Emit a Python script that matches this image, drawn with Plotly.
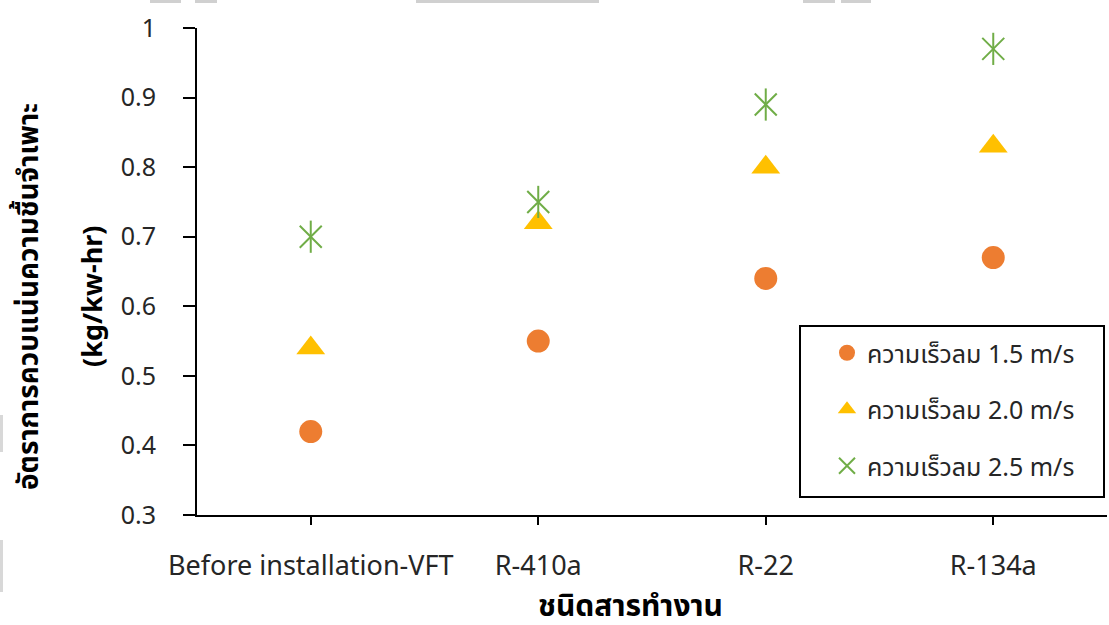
import plotly.graph_objects as go

categories = ["Before installation-VFT", "R-410a", "R-22", "R-134a"]
speed_15 = [0.42, 0.55, 0.64, 0.67]
speed_20 = [0.54, 0.72, 0.80, 0.83]
speed_25 = [0.70, 0.75, 0.89, 0.97]
series_names = ["ความเร็วลม 1.5 m/s", "ความเร็วลม 2.0 m/s", "ความเร็วลม 2.5 m/s"]
y_ticks = [0.3, 0.4, 0.5, 0.6, 0.7, 0.8, 0.9, 1.0]
y_tick_text = ["0.3", "0.4", "0.5", "0.6", "0.7", "0.8", "0.9", "1"]
x_title = "ชนิดสารทำงาน"
y_title_1 = "อัตราการควบแน่นความชื้นจำเพาะ"
y_title_2 = "(kg/kw-hr)"

FONT = "Noto Sans, Noto Sans Thai, DejaVu Sans, sans-serif"
W, H = 1109, 625
L, R, T, B = 197, 2, 28, 110
GREEN = "#70AD47"

fig = go.Figure()
fig.add_trace(go.Scatter(x=categories, y=speed_15, mode="markers", name=series_names[0],
                         legendgroup="g15",
                         marker=dict(symbol="circle", size=23, color="#ED7D31")))
fig.add_trace(go.Scatter(x=categories, y=speed_20, mode="markers", name=series_names[1],
                         legendgroup="g20",
                         marker=dict(symbol="triangle-up", size=25, color="#FFC000")))
fig.add_trace(go.Scatter(x=categories, y=speed_25, mode="markers", name=series_names[2],
                         legendgroup="g25",
                         marker=dict(symbol="x-thin-open", size=22, color=GREEN,
                                     line=dict(color=GREEN, width=2))))
fig.add_trace(go.Scatter(x=categories, y=speed_25, mode="markers", name=series_names[2],
                         legendgroup="g25", showlegend=False,
                         marker=dict(symbol="line-ns-open", size=23, color=GREEN,
                                     line=dict(color=GREEN, width=2))))

pw = W - L - R
ph = H - T - B

def px_x(p):
    return (p - L) / pw

def px_y(p):
    return (H - B - p) / ph

shapes = []
for x0, x1 in [(150, 181), (195, 217), (416, 599), (803, 835), (841, 871)]:
    shapes.append(dict(type="rect", xref="paper", yref="paper",
                       x0=px_x(x0), x1=px_x(x1), y0=px_y(0), y1=px_y(3),
                       fillcolor="#d0d0d0", line=dict(width=0), layer="below"))
for y0, y1 in [(415, 452), (540, 592)]:
    shapes.append(dict(type="rect", xref="paper", yref="paper",
                       x0=px_x(0), x1=px_x(3), y0=px_y(y0), y1=px_y(y1),
                       fillcolor="#d8d8d8", line=dict(width=0), layer="below"))
# legend frame
shapes.append(dict(type="rect", xref="paper", yref="paper",
                   x0=px_x(800), x1=px_x(1104), y0=px_y(497), y1=px_y(326),
                   fillcolor="white", line=dict(color="black", width=2), layer="below"))

fig.update_layout(
    width=W, height=H,
    margin=dict(l=L, r=R, t=T, b=B),
    paper_bgcolor="white", plot_bgcolor="white",
    font=dict(family=FONT, size=26, color="#262626"),
    showlegend=True,
    legend=dict(x=px_x(827), y=px_y(330), xanchor="left", yanchor="top",
                bgcolor="rgba(0,0,0,0)", borderwidth=0,
                font=dict(size=25, color="#262626"),
                traceorder="grouped", tracegroupgap=21, itemsizing="trace"),
    xaxis=dict(type="category", range=[-0.5, 3.5], showgrid=False,
               showline=True, linecolor="black", linewidth=2,
               ticks="outside", ticklen=8, tickwidth=2, tickcolor="black",
               ticklabelstandoff=18, tickfont=dict(size=27)),
    yaxis=dict(range=[0.3, 1.0], tickvals=y_ticks, ticktext=y_tick_text,
               showgrid=False, zeroline=False,
               showline=True, linecolor="black", linewidth=2,
               ticks="outside", ticklen=12, tickwidth=2, tickcolor="black",
               ticklabelstandoff=22, tickfont=dict(size=25)),
    shapes=shapes,
    annotations=[
        dict(text="<b>" + x_title + "</b>", xref="paper", yref="paper",
             x=px_x(630), y=px_y(604), xanchor="center", yanchor="middle",
             showarrow=False, font=dict(size=30, color="black")),
        dict(text="<b>" + y_title_1 + "</b>", xref="paper", yref="paper",
             x=px_x(27), y=px_y(297), xanchor="center", yanchor="middle",
             showarrow=False, textangle=-90,
             font=dict(size=28, color="black")),
        dict(text="<b>" + y_title_2 + "</b>", xref="paper", yref="paper",
             x=px_x(91), y=px_y(297), xanchor="center", yanchor="middle",
             showarrow=False, textangle=-90,
             font=dict(size=27, color="black")),
    ],
)

fig.write_html("out.html", config={"displayModeBar": False},
               post_script="document.body.style.margin='0';document.body.style.overflow='hidden';")
